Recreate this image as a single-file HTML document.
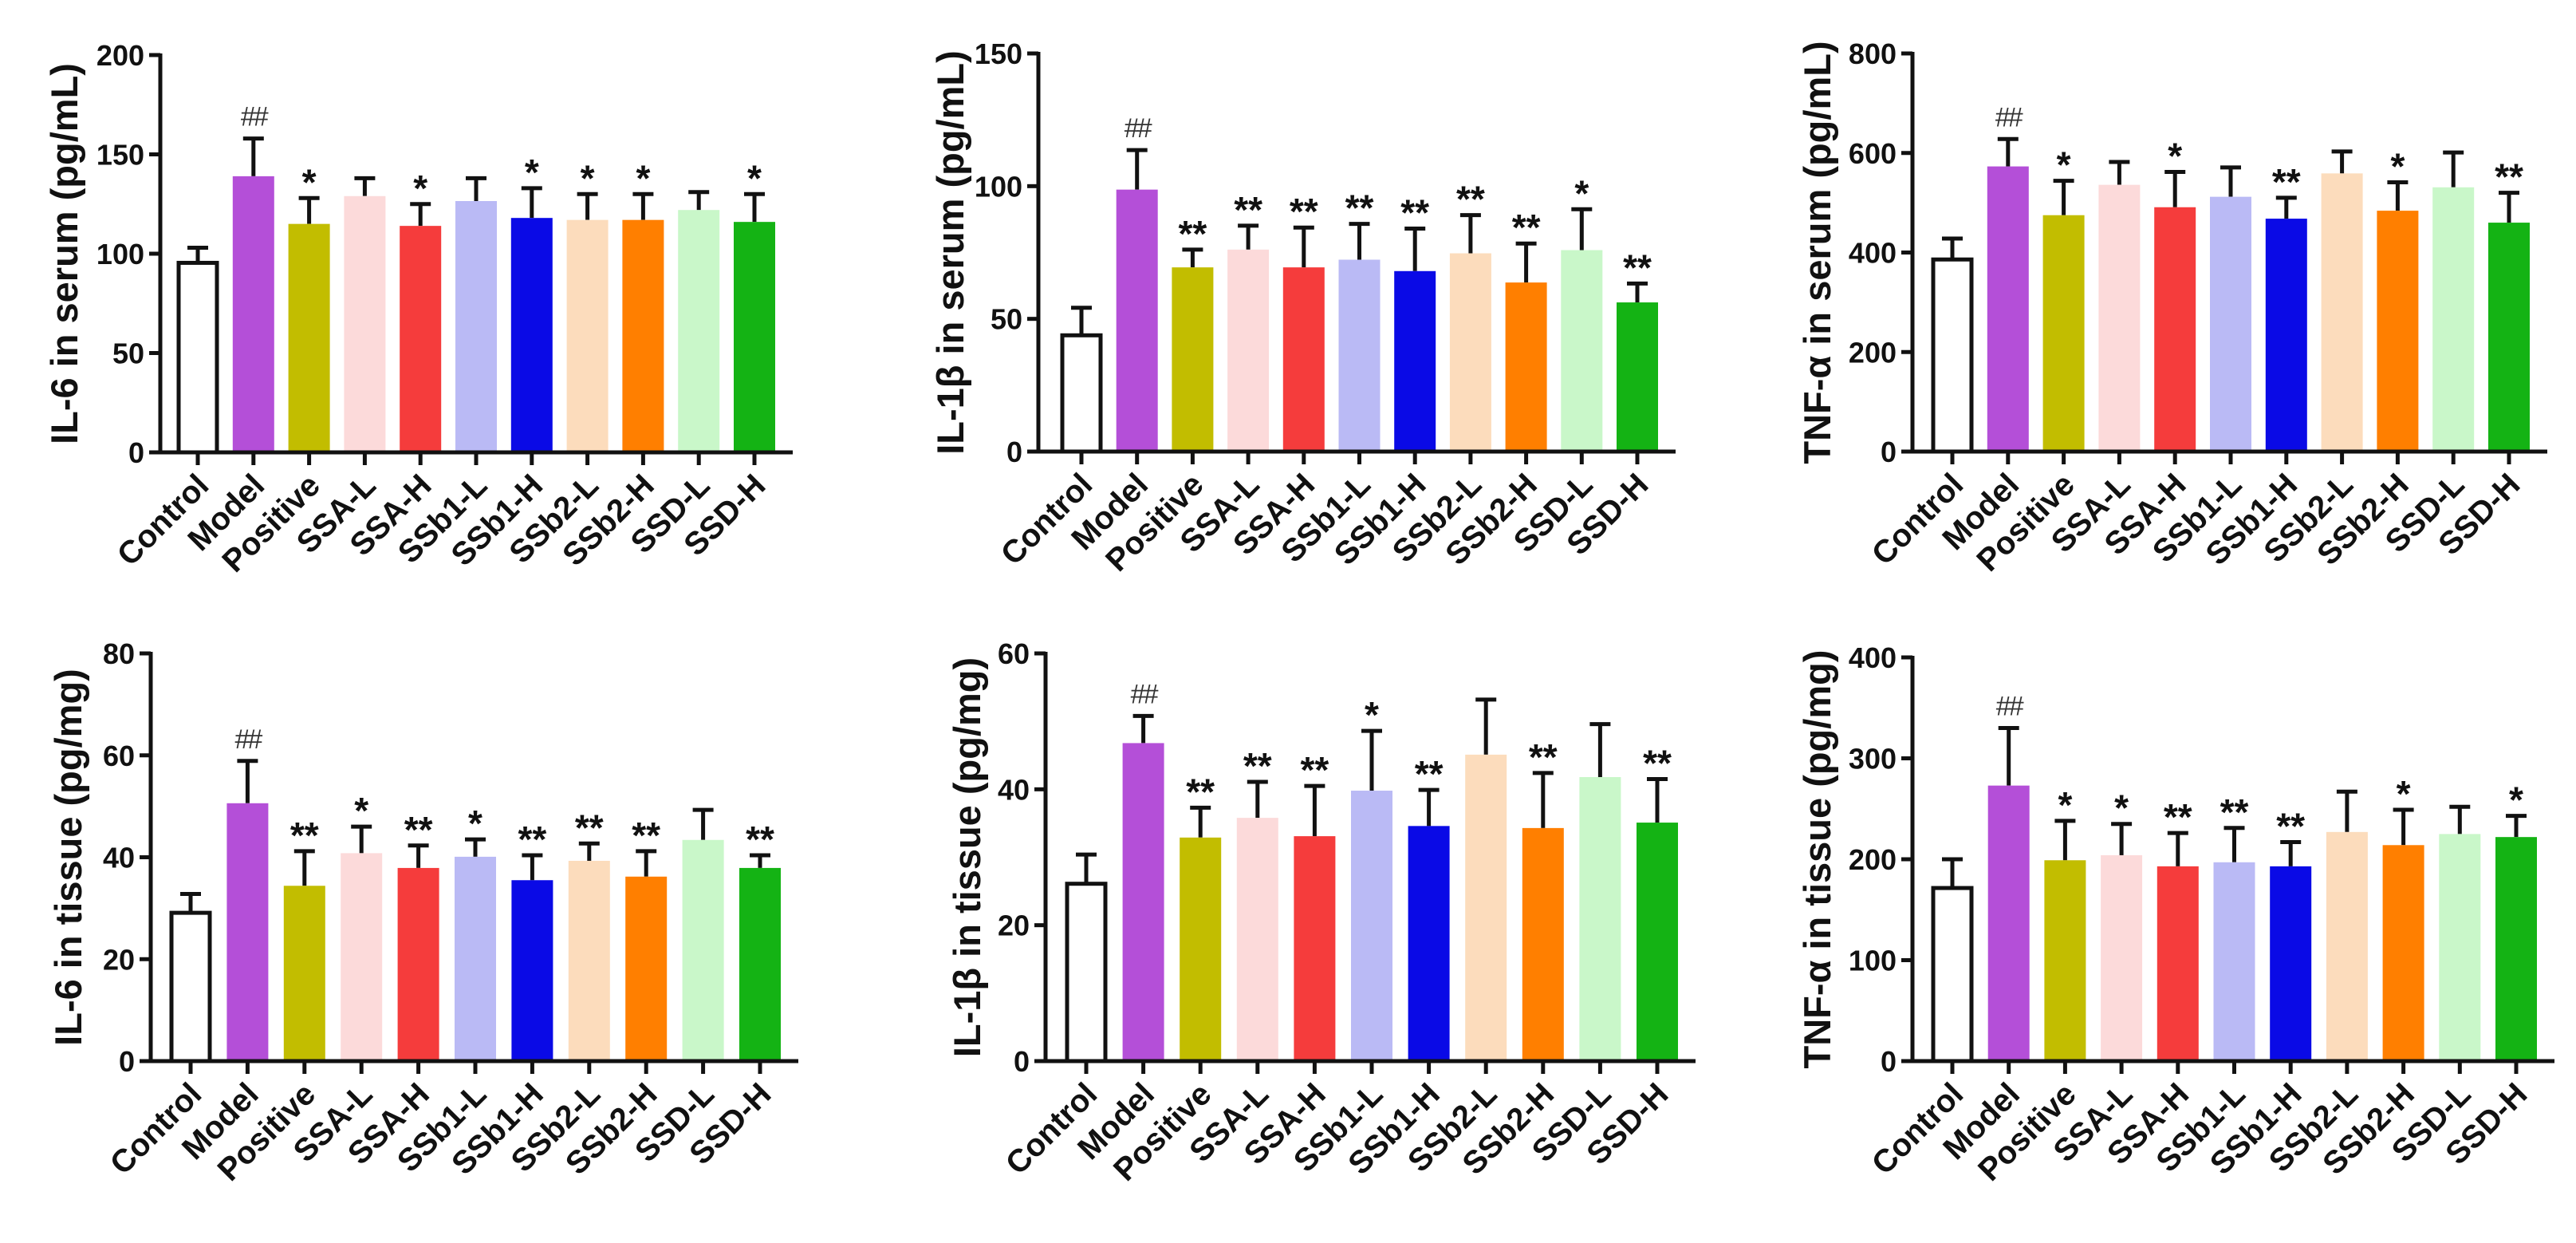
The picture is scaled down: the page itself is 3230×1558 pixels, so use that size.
<!DOCTYPE html>
<html><head><meta charset="utf-8">
<style>
html,body{margin:0;padding:0;background:#fff;}
svg{display:block;font-family:"Liberation Sans",Arial,sans-serif;}
</style></head>
<body>
<svg id="fig" width="3230" height="1558" viewBox="0 0 3230 1558" xmlns="http://www.w3.org/2000/svg">
<rect width="3230" height="1558" fill="#fff"/>
</svg>
<script>
const categories = ["Control","Model","Positive","SSA-L","SSA-H","SSb1-L","SSb1-H","SSb2-L","SSb2-H","SSD-L","SSD-H"];
const colors = ["#ffffff","#b44fd8","#c2bd00","#fcdada","#f53c3c","#babaf5","#0a0ae6","#fcdcbc","#ff7f00","#c9f7c9","#14b314"];

const il6SerumMean = [95.4,139,115,129,114,126.5,118,117,117,122,116];
const il6SerumErr  = [103,158,128,138,125,138,133,130,130,131,130];
const il6SerumMarks = ["","##","*","","*","","*","*","*","","*"];

const il1bSerumMean = [43.8,98.7,69.4,76.1,69.4,72.3,68,74.7,63.7,75.9,56.2];
const il1bSerumErr  = [54.2,113.6,76.1,85.1,84.4,85.8,84,89.1,78.4,91.3,63.3];
const il1bSerumMarks = ["","##","**","**","**","**","**","**","**","*","**"];

const tnfSerumMean = [386,573,475,536,491,512,468,559,484,531,460];
const tnfSerumErr  = [428,628,544,582,562,571,510,603,541,601,520];
const tnfSerumMarks = ["","##","*","","*","","**","","*","","**"];

const il6TissueMean = [29.1,50.6,34.4,40.8,37.9,40.1,35.5,39.3,36.2,43.4,37.9];
const il6TissueErr  = [32.8,58.9,41.2,46,42.3,43.5,40.4,42.7,41.2,49.3,40.4];
const il6TissueMarks = ["","##","**","*","**","*","**","**","**","","**"];

const il1bTissueMean = [26.1,46.8,32.9,35.8,33.1,39.8,34.6,45.1,34.3,41.8,35.1];
const il1bTissueErr  = [30.4,50.8,37.3,41.1,40.5,48.6,39.9,53.2,42.4,49.6,41.5];
const il1bTissueMarks = ["","##","**","**","**","*","**","","**","","**"];

const tnfTissueMean = [171.5,273,199,204,193,197,193,227,214,225,222];
const tnfTissueErr  = [200,330,238,235,226,231,217,267,249,252,243];
const tnfTissueMarks = ["","##","*","*","**","**","**","","*","","*"];

const ticks1 = [0,50,100,150,200];
const ticks2 = [0,50,100,150];
const ticks3 = [0,200,400,600,800];
const ticks4 = [0,20,40,60,80];
const ticks5 = [0,20,40,60];
const ticks6 = [0,100,200,300,400];

const NS = "http://www.w3.org/2000/svg";
const svg = document.getElementById("fig");
function mk(tag, attrs, parent){
  const e = document.createElementNS(NS, tag);
  for (const k in attrs) e.setAttribute(k, attrs[k]);
  (parent||svg).appendChild(e);
  return e;
}

const panels = [
 {id:"il6-serum", title:"IL-6 in serum (pg/mL)", mean:il6SerumMean, err:il6SerumErr, marks:il6SerumMarks, ticks:ticks1, ax:201, top:69, zero:567, c0:248, end:994, tx:80},
 {id:"il1b-serum", title:"IL-1β in serum (pg/mL)", mean:il1bSerumMean, err:il1bSerumErr, marks:il1bSerumMarks, ticks:ticks2, ax:1302, top:67, zero:566, c0:1356, end:2101, tx:1191},
 {id:"tnf-serum", title:"TNF-α in serum (pg/mL)", mean:tnfSerumMean, err:tnfSerumErr, marks:tnfSerumMarks, ticks:ticks3, ax:2398, top:67, zero:566, c0:2448, end:3194, tx:2278},
 {id:"il6-tissue", title:"IL-6 in tissue (pg/mg)", mean:il6TissueMean, err:il6TissueErr, marks:il6TissueMarks, ticks:ticks4, ax:189, top:819, zero:1330, c0:239, end:1001, tx:85},
 {id:"il1b-tissue", title:"IL-1β in tissue (pg/mg)", mean:il1bTissueMean, err:il1bTissueErr, marks:il1bTissueMarks, ticks:ticks5, ax:1311, top:819, zero:1330, c0:1362, end:2126, tx:1212},
 {id:"tnf-tissue", title:"TNF-α in tissue (pg/mg)", mean:tnfTissueMean, err:tnfTissueErr, marks:tnfTissueMarks, ticks:ticks6, ax:2398, top:824, zero:1330, c0:2448, end:3203, tx:2278}
];

panels.forEach(p => {
  const g = mk("g", {});
  
  
  const maxV = p.ticks[p.ticks.length-1];
  const y = v => p.zero - (v/maxV)*(p.zero - p.top);
  const step = (p.end - p.c0 - 48) / 10;
  const x = i => p.c0 + i*step;
  const bw = 52;

  p.mean.forEach((m,i) => {
    const cx = x(i);
    const eb = mk("path", {d:`M${cx} ${y(m)} V${y(p.err[i])} M${cx-13} ${y(p.err[i])} H${cx+13}`, stroke:"#111", "stroke-width":5, fill:"none"}, g);
    
    
    let r;
    if (i === 0) {
      r = mk("rect", {x:cx-bw/2+2, y:y(m), width:bw-4, height:p.zero-y(m), fill:"#fff", stroke:"#111", "stroke-width":5}, g);
    } else {
      r = mk("rect", {x:cx-bw/2, y:y(m), width:bw, height:p.zero-y(m), fill:colors[i]}, g);
    }
    
    
    if (p.marks[i]) {
      const isHash = p.marks[i] === "##";
      const t = mk("text", {x:cx, y:y(p.err[i]) - (isHash ? 16 : 4), "text-anchor":"middle",
        "font-size": isHash ? 34 : 46, "font-weight": isHash ? "normal" : "bold", fill: isHash ? "#333" : "#111",
        "letter-spacing": isHash ? -3 : 0}, g);
      t.textContent = p.marks[i];
      
      
    }
    mk("line", {x1:cx, x2:cx, y1:p.zero, y2:p.zero+16, stroke:"#111", "stroke-width":5}, g);
    const lbl = mk("text", {x:0, y:0, "text-anchor":"end", "font-size":40, "font-weight":"bold", fill:"#111",
      transform:`translate(${cx+16},${p.zero+44}) rotate(-45)`}, g);
    lbl.textContent = categories[i];
    
    
  });

  const ya = mk("line", {x1:p.ax, x2:p.ax, y1:p.top-2, y2:p.zero+2, stroke:"#111", "stroke-width":5}, g);
  
  
  const xa = mk("line", {x1:p.ax-2, x2:p.end, y1:p.zero, y2:p.zero, stroke:"#111", "stroke-width":5}, g);
  
  
  p.ticks.forEach(t => {
    mk("line", {x1:p.ax-14, x2:p.ax, y1:y(t), y2:y(t), stroke:"#111", "stroke-width":5}, g);
    const tl = mk("text", {x:p.ax-20, y:y(t)+13, "text-anchor":"end", "font-size":36, "font-weight":"bold", fill:"#111"}, g);
    tl.textContent = t;
    
    
  });
  const my = (p.top + p.zero)/2;
  const tt = mk("text", {x:0, y:0, "text-anchor":"middle", "font-size":47, "font-weight":"bold", fill:"#111",
    transform:`translate(${p.tx+17},${my}) rotate(-90)`}, g);
  tt.textContent = p.title;
  
  
});
</script>
</body></html>
